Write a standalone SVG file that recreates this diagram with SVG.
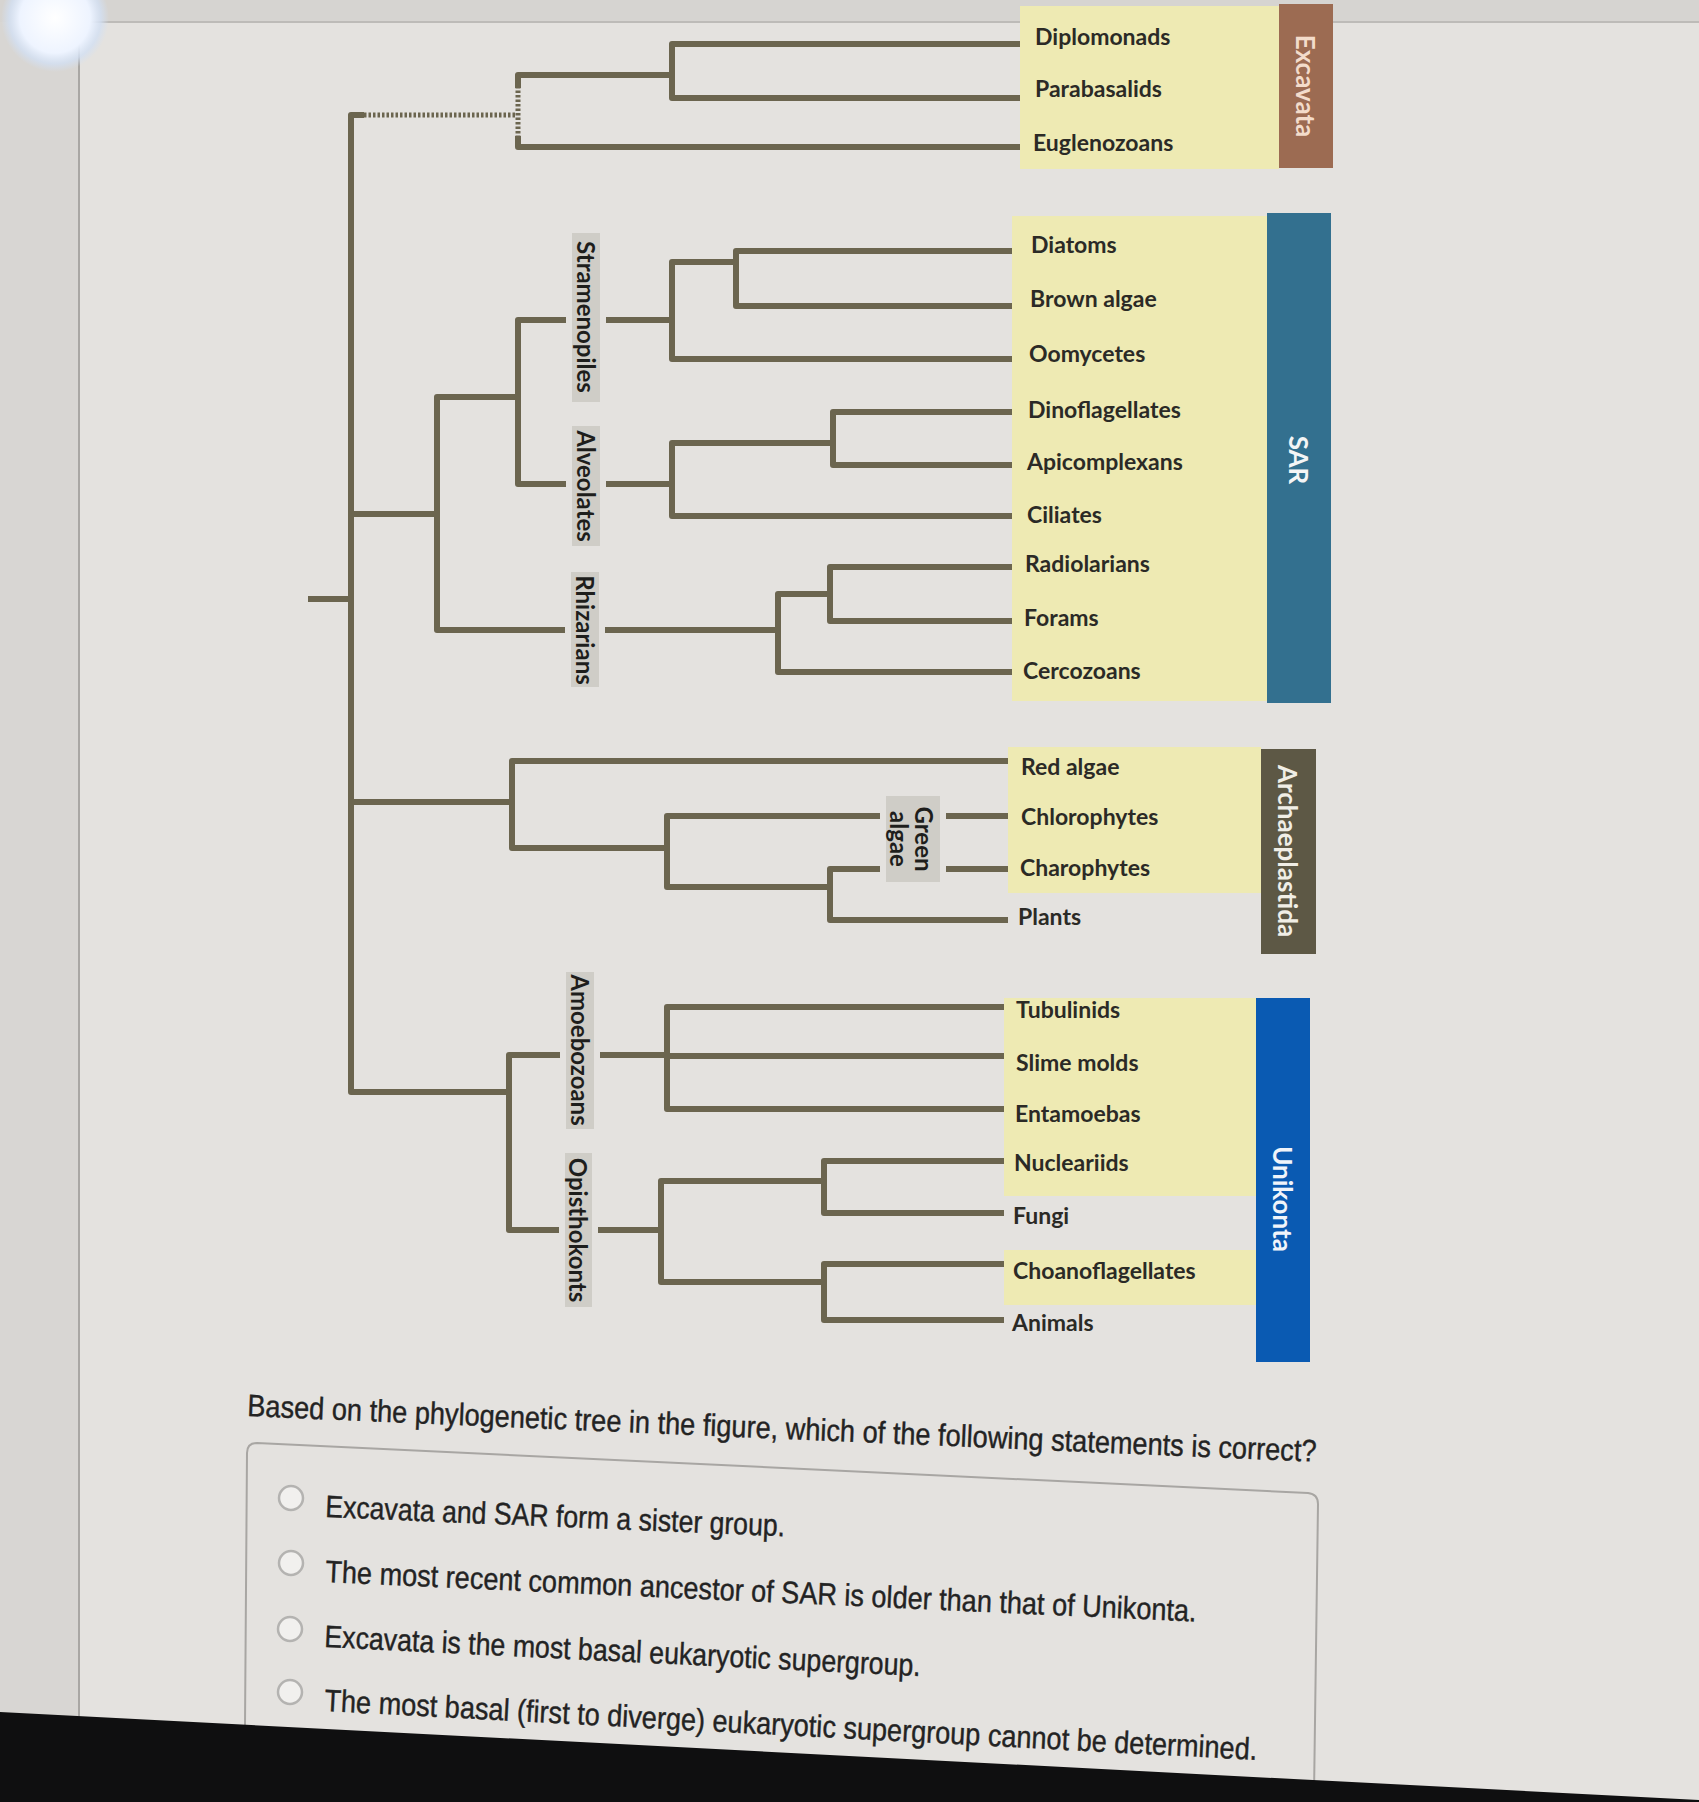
<svg xmlns="http://www.w3.org/2000/svg" width="1699" height="1802" viewBox="0 0 1699 1802">
<defs>
<radialGradient id="glare" cx="0.5" cy="0.5" r="0.5">
<stop offset="0" stop-color="#ffffff"/>
<stop offset="0.65" stop-color="#eef4ff"/>
<stop offset="0.85" stop-color="#d3e0f3" stop-opacity="0.8"/>
<stop offset="1" stop-color="#d3e0f3" stop-opacity="0"/>
</radialGradient>
<style>
.br{fill:none;stroke:#6b654f;stroke-width:6;stroke-linejoin:round;stroke-linecap:butt}
.dot{fill:none;stroke:#6b654f;stroke-width:5;stroke-dasharray:2.5 2}
.yel{fill:#eeeab3}
.leaf{font-family:Lato,"Open Sans",sans-serif;font-weight:700;font-size:23px;fill:#2b2a26}
.clade{fill:#cfcdc7;stroke:#e4e2df;stroke-width:6}
.ctext{font-family:Lato,"Open Sans",sans-serif;font-weight:700;font-size:24px;fill:#1e1e1c;text-anchor:middle;dominant-baseline:central}
.stext{font-family:Lato,"Open Sans",sans-serif;font-weight:700;font-size:26px;text-anchor:middle;dominant-baseline:central}
.q{font-family:"Liberation Sans",Arial,sans-serif;font-size:31px;fill:#232323;stroke:#232323;stroke-width:0.4}
.radio{fill:#f1f0ee;stroke:#b4b3b1;stroke-width:2.5}
</style>
</defs>
<rect width="1699" height="1802" fill="#e4e2df"/>
<rect x="0" y="0" width="79" height="1802" fill="#d8d6d3"/>
<rect x="0" y="0" width="1699" height="22" fill="#d6d4d1"/>
<line x1="79" y1="22" x2="79" y2="1720" stroke="#a9a7a4" stroke-width="2"/>
<line x1="79" y1="22" x2="1699" y2="22" stroke="#bdbbb8" stroke-width="2"/>
<circle cx="55" cy="18" r="54" fill="url(#glare)"/>

<g id="yellow-boxes">
<rect class="yel" x="1020" y="6" width="259" height="163"/>
<rect class="yel" x="1012" y="216" width="255" height="485"/>
<rect class="yel" x="1008" y="747" width="253" height="146"/>
<rect class="yel" x="1004" y="998" width="252" height="198"/>
<rect class="yel" x="1004" y="1250" width="252" height="55"/>
</g>

<g id="connectors">
<path class="br" d="M308,599 H351"/>
<path class="br" d="M364,115 H351 V1092 H509"/>
<path class="dot" d="M364,115 H515"/>
<path class="dot" d="M518,86 V138"/>
<path class="br" d="M518,88 V75 H672"/>
<path class="br" d="M518,136 V147 H1020"/>
<path class="br" d="M1020,44 H672 V98 H1020"/>
<path class="br" d="M351,514 H437"/>
<path class="br" d="M518,397 H437 V630 H778"/>
<path class="br" d="M672,320 H518 V484 H672"/>
<path class="br" d="M736,262 H672 V359 H1012"/>
<path class="br" d="M1012,251 H736 V306 H1012"/>
<path class="br" d="M833,443 H672 V516 H1012"/>
<path class="br" d="M1012,412 H833 V465 H1012"/>
<path class="br" d="M830,594 H778 V672 H1012"/>
<path class="br" d="M1012,567 H830 V621 H1012"/>
<path class="br" d="M351,802 H512"/>
<path class="br" d="M1008,761 H512 V848 H667"/>
<path class="br" d="M1008,816 H667 V887 H830"/>
<path class="br" d="M1008,869 H830 V920 H1008"/>
<path class="br" d="M667,1055 H509 V1230 H661"/>
<path class="br" d="M1004,1007 H667 V1109 H1004"/>
<path class="br" d="M667,1056 H1004"/>
<path class="br" d="M824,1181 H661 V1282 H824"/>
<path class="br" d="M1004,1161 H824 V1213 H1004"/>
<path class="br" d="M1004,1264 H824 V1320 H1004"/>
</g>

<g id="clade-stramenopiles"><rect class="clade" x="569" y="230" width="34" height="175"/><text class="ctext" transform="translate(586,317) rotate(90)">Stramenopiles</text></g>
<g id="clade-alveolates"><rect class="clade" x="569" y="423" width="34" height="126"/><text class="ctext" transform="translate(586,486) rotate(90)">Alveolates</text></g>
<g id="clade-rhizarians"><rect class="clade" x="568" y="569" width="34" height="121"/><text class="ctext" transform="translate(585,630) rotate(90)">Rhizarians</text></g>
<g id="clade-green-algae"><rect class="clade" x="883" y="793" width="60" height="92"/><text class="ctext" transform="translate(913,839) rotate(90)"><tspan x="0" y="-12">Green</tspan><tspan x="0" y="13">algae</tspan></text></g>
<g id="clade-amoebozoans"><rect class="clade" x="563" y="969" width="34" height="163"/><text class="ctext" transform="translate(580,1050) rotate(90)">Amoebozoans</text></g>
<g id="clade-opisthokonts"><rect class="clade" x="562" y="1150" width="33" height="160"/><text class="ctext" transform="translate(578,1230) rotate(90)">Opisthokonts</text></g>

<g id="leaf-labels">
<g id="n-diplomonads"><text class="leaf" x="1035" y="45">Diplomonads</text></g>
<g id="n-parabasalids"><text class="leaf" x="1035" y="97">Parabasalids</text></g>
<g id="n-euglenozoans"><text class="leaf" x="1033" y="151">Euglenozoans</text></g>
<g id="n-diatoms"><text class="leaf" x="1031" y="253">Diatoms</text></g>
<g id="n-brown-algae"><text class="leaf" x="1030" y="307">Brown algae</text></g>
<g id="n-oomycetes"><text class="leaf" x="1029" y="362">Oomycetes</text></g>
<g id="n-dinoflagellates"><text class="leaf" x="1028" y="418">Dinoflagellates</text></g>
<g id="n-apicomplexans"><text class="leaf" x="1027" y="470">Apicomplexans</text></g>
<g id="n-ciliates"><text class="leaf" x="1027" y="523">Ciliates</text></g>
<g id="n-radiolarians"><text class="leaf" x="1025" y="572">Radiolarians</text></g>
<g id="n-forams"><text class="leaf" x="1024" y="626">Forams</text></g>
<g id="n-cercozoans"><text class="leaf" x="1023" y="679">Cercozoans</text></g>
<g id="n-red-algae"><text class="leaf" x="1021" y="775">Red algae</text></g>
<g id="n-chlorophytes"><text class="leaf" x="1021" y="825">Chlorophytes</text></g>
<g id="n-charophytes"><text class="leaf" x="1020" y="876">Charophytes</text></g>
<g id="n-plants"><text class="leaf" x="1018" y="925">Plants</text></g>
<g id="n-tubulinids"><text class="leaf" x="1016" y="1018">Tubulinids</text></g>
<g id="n-slime-molds"><text class="leaf" x="1016" y="1071">Slime molds</text></g>
<g id="n-entamoebas"><text class="leaf" x="1015" y="1122">Entamoebas</text></g>
<g id="n-nucleariids"><text class="leaf" x="1014" y="1171">Nucleariids</text></g>
<g id="n-fungi"><text class="leaf" x="1013" y="1224">Fungi</text></g>
<g id="n-choanoflagellates"><text class="leaf" x="1013" y="1279">Choanoflagellates</text></g>
<g id="n-animals"><text class="leaf" x="1012" y="1331">Animals</text></g>
</g>

<g id="sg-excavata"><rect x="1279" y="4" width="54" height="164" fill="#9c6b52"/><text class="stext" fill="#f3dccb" transform="translate(1306,86) rotate(90)">Excavata</text></g>
<g id="sg-sar"><rect x="1267" y="213" width="64" height="490" fill="#33708f"/><text class="stext" fill="#f4f5f6" transform="translate(1299,460) rotate(90)">SAR</text></g>
<g id="sg-archaeplastida"><rect x="1261" y="749" width="55" height="205" fill="#5d5845"/><text class="stext" fill="#f0eee6" transform="translate(1288,851) rotate(90)">Archaeplastida</text></g>
<g id="sg-unikonta"><rect x="1256" y="998" width="54" height="364" fill="#0a5ab2"/><text class="stext" fill="#f0f4fa" transform="translate(1283,1199) rotate(90)">Unikonta</text></g>

<g id="question">
<text class="q" x="247" y="1416" transform="rotate(2.45 247 1416)" textLength="1070" lengthAdjust="spacingAndGlyphs">Based on the phylogenetic tree in the figure, which of the following statements is correct?</text>
</g>
<g id="answer-card">
<path d="M245,1725 L247,1453 Q247,1443 257,1443 L1308,1493 Q1318,1494 1318,1504 L1314,1795" fill="none" stroke="#a8a6a3" stroke-width="2"/>
</g>
<g id="option-1"><circle class="radio" cx="291" cy="1498" r="12"/><text class="q" x="325" y="1517" transform="rotate(2.4 325 1517)" textLength="460" lengthAdjust="spacingAndGlyphs">Excavata and SAR form a sister group.</text></g>
<g id="option-2"><circle class="radio" cx="291" cy="1563" r="12"/><text class="q" x="325" y="1582" transform="rotate(2.6 325 1582)" textLength="872" lengthAdjust="spacingAndGlyphs">The most recent common ancestor of SAR is older than that of Unikonta.</text></g>
<g id="option-3"><circle class="radio" cx="290" cy="1629" r="12"/><text class="q" x="324" y="1647" transform="rotate(2.8 324 1647)" textLength="597" lengthAdjust="spacingAndGlyphs">Excavata is the most basal eukaryotic supergroup.</text></g>
<g id="option-4"><circle class="radio" cx="290" cy="1692" r="12"/><text class="q" x="324" y="1711" transform="rotate(3.0 324 1711)" textLength="934" lengthAdjust="spacingAndGlyphs">The most basal (first to diverge) eukaryotic supergroup cannot be determined.</text></g>

<polygon points="0,1712 1699,1800 1699,1802 0,1802" fill="#0f0f10"/>
</svg>
